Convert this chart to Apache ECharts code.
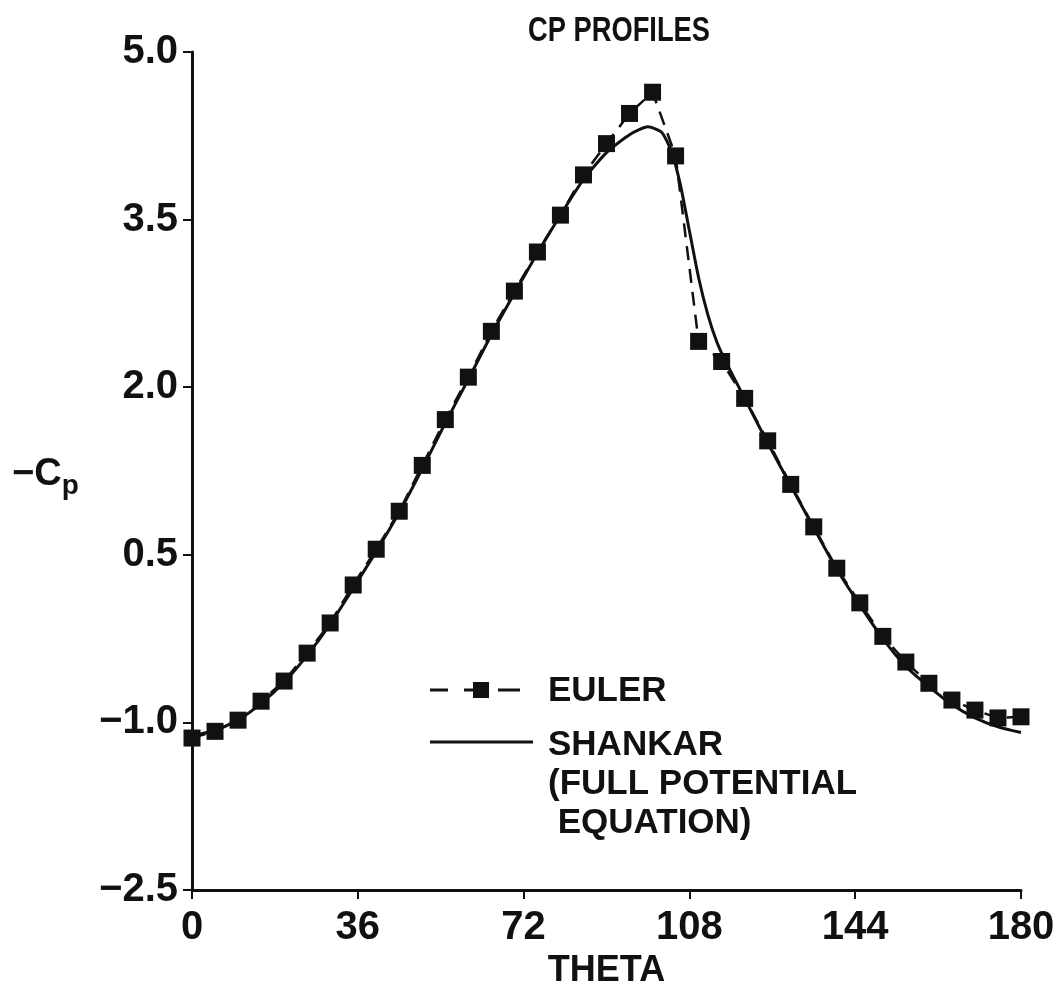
<!DOCTYPE html>
<html>
<head>
<meta charset="utf-8">
<script src="https://cdn.jsdelivr.net/npm/echarts@6/dist/echarts.min.js"></script>
<style>
  html, body { margin: 0; padding: 0; background: #fff; }
  #main { width: 1062px; height: 994px; }
</style>
</head>
<body>
<div id="main"></div>
<script>
// Euler points (theta, -Cp)
var eulerTheta = [0, 5, 10, 15, 20, 25, 30, 35, 40, 45, 50, 55, 60, 65, 70, 75, 80, 85, 90, 95, 100,
                  105, 110, 115, 120, 125, 130, 135, 140, 145, 150, 155, 160, 165, 170, 175, 180];
var eulerCp = [-1.14, -1.08, -0.98, -0.81, -0.63, -0.38, -0.11, 0.23, 0.55, 0.89, 1.30, 1.71, 2.09, 2.50, 2.86, 3.21, 3.54, 3.90, 4.18, 4.45, 4.64,
               4.07, 2.41, 2.23, 1.90, 1.52, 1.13, 0.75, 0.38, 0.07, -0.23, -0.46, -0.65, -0.80, -0.89, -0.96, -0.95];

// Shankar full potential curve
var shankarTheta = [0, 5, 10, 15, 20, 25, 30, 35, 40, 45, 50, 55, 60, 65, 70, 75, 80, 85, 90, 95, 99, 102,
                    104, 106, 108, 110, 112, 114, 116, 120, 125, 130, 135, 140, 145, 150, 155, 160, 165, 170, 175, 180];
var shankarCp = [-1.12, -1.07, -0.98, -0.83, -0.64, -0.40, -0.12, 0.20, 0.53, 0.88, 1.27, 1.68, 2.07, 2.47, 2.84, 3.20, 3.54, 3.86, 4.10, 4.26, 4.33, 4.28,
                 4.12, 3.82, 3.40, 2.98, 2.65, 2.40, 2.22, 1.90, 1.50, 1.12, 0.74, 0.37, 0.05, -0.25, -0.50, -0.68, -0.84, -0.96, -1.04, -1.09];

var xTicks = [0, 36, 72, 108, 144, 180];
var yTicks = [-2.5, -1.0, 0.5, 2.0, 3.5, 5.0];

function pairs(xs, ys) {
    var out = [];
    for (var i = 0; i < xs.length; i++) out.push([xs[i], ys[i]]);
    return out;
}

var FONT = '"Liberation Sans", Arial, sans-serif';

var myChart = echarts.init(document.getElementById('main'));

var option = {
    backgroundColor: '#fff',
    animation: false,
    grid: { left: 192, right: 41, top: 52, bottom: 104 },
    xAxis: {
        type: 'value',
        min: xTicks[0],
        max: xTicks[xTicks.length - 1],
        interval: 36,
        name: 'THETA',
        nameLocation: 'middle',
        nameGap: 56,
        nameTextStyle: { fontFamily: FONT, fontWeight: 'bold', fontSize: 36, color: '#111' },
        axisLine: { onZero: false, lineStyle: { color: '#111', width: 3 } },
        axisTick: { length: 9, lineStyle: { color: '#111', width: 2 } },
        axisLabel: { margin: 18, fontFamily: FONT, fontWeight: 'bold', fontSize: 40, color: '#111' },
        splitLine: { show: false }
    },
    yAxis: {
        type: 'value',
        min: yTicks[0],
        max: yTicks[yTicks.length - 1],
        interval: 1.5,
        axisLine: { onZero: false, lineStyle: { color: '#111', width: 3 } },
        axisTick: { length: 9, lineStyle: { color: '#111', width: 2 } },
        axisLabel: {
            margin: 14,
            fontFamily: FONT, fontWeight: 'bold', fontSize: 40, color: '#111',
            formatter: function (v) { return v.toFixed(1).replace('-', '\u2212'); }
        },
        splitLine: { show: false }
    },
    graphic: [
        // title, condensed look
        {
            type: 'text', x: 528, y: 14, scaleX: 0.78,
            style: { text: 'CP PROFILES', fontFamily: FONT, fontWeight: 'bold', fontSize: 35, fill: '#111' }
        },
        {
            type: 'text', left: 12, top: 456,
            style: {
                text: '{a|\u2212C}{b|p}',
                rich: {
                    a: { fontFamily: FONT, fontWeight: 'bold', fontSize: 38, fill: '#111' },
                    b: { fontFamily: FONT, fontWeight: 'bold', fontSize: 28, fill: '#111', padding: [22, 0, 0, 0] }
                }
            }
        },
        // legend: Euler
        { type: 'line', shape: { x1: 430, y1: 690, x2: 448, y2: 690 }, style: { stroke: '#111', lineWidth: 3 } },
        { type: 'line', shape: { x1: 464, y1: 690, x2: 474, y2: 690 }, style: { stroke: '#111', lineWidth: 3 } },
        { type: 'rect', shape: { x: 473, y: 682, width: 16, height: 16 }, style: { fill: '#111' } },
        { type: 'line', shape: { x1: 498, y1: 690, x2: 520, y2: 690 }, style: { stroke: '#111', lineWidth: 3 } },
        {
            type: 'text', left: 548, top: 674,
            style: { text: 'EULER', fontFamily: FONT, fontWeight: 'bold', fontSize: 35, fill: '#111' }
        },
        // legend: Shankar
        { type: 'line', shape: { x1: 430, y1: 742, x2: 533, y2: 742 }, style: { stroke: '#111', lineWidth: 3 } },
        {
            type: 'text', left: 548, top: 726,
            style: {
                text: 'SHANKAR\n(FULL POTENTIAL\n EQUATION)',
                fontFamily: FONT, fontWeight: 'bold', fontSize: 35, lineHeight: 39, fill: '#111'
            }
        }
    ],
    series: [
        {
            name: 'EULER',
            type: 'line',
            data: pairs(eulerTheta, eulerCp),
            symbol: 'rect',
            symbolSize: 17,
            itemStyle: { color: '#111' },
            lineStyle: { color: '#111', width: 2.5, type: [14, 9] },
            z: 3
        },
        {
            name: 'SHANKAR',
            type: 'line',
            data: pairs(shankarTheta, shankarCp),
            symbol: 'none',
            smooth: 0.2,
            lineStyle: { color: '#111', width: 3 },
            z: 2
        }
    ]
};

myChart.setOption(option);
</script>
</body>
</html>
